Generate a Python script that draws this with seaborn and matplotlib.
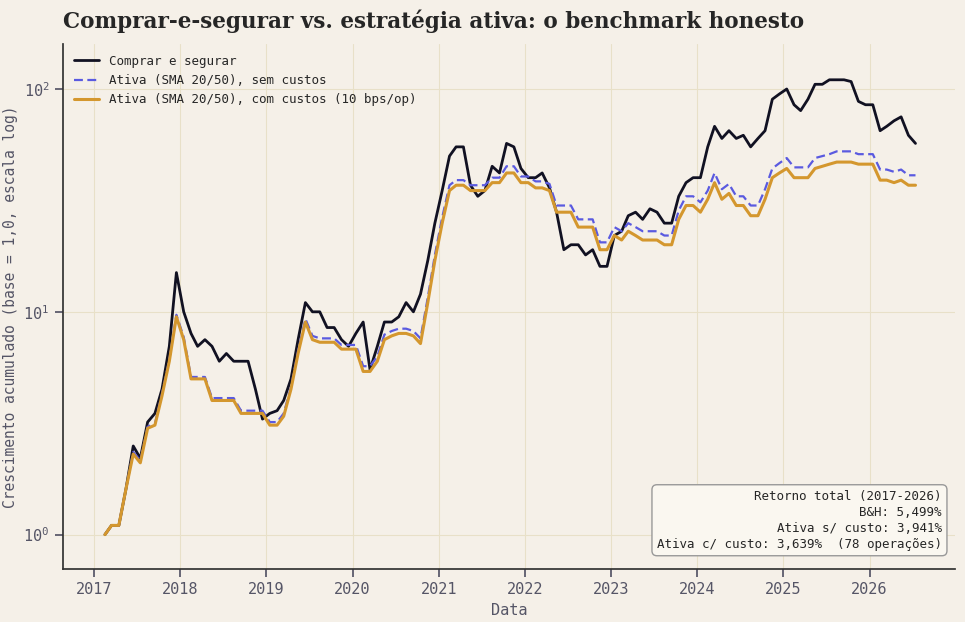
import numpy as np
import pandas as pd
import matplotlib
matplotlib.use("Agg")
import matplotlib.pyplot as plt
import seaborn as sns

# valores mensais aproximados, fev/2017 .. jul/2026
datas = pd.date_range("2017-02-01", periods=114, freq="MS") + pd.Timedelta(days=14)

buy_hold = [1.0, 1.1, 1.1, 1.6, 2.5, 2.2, 3.2, 3.5, 4.5, 7, 15,
            10, 8, 7, 7.5, 7, 6, 6.5, 6, 6, 6, 4.5, 3.3,
            3.5, 3.6, 4, 5, 7.5, 11, 10, 10, 8.5, 8.5, 7.5, 7,
            8, 9, 5.5, 7, 9, 9, 9.5, 11, 10, 12, 17, 25,
            35, 50, 55, 55, 37, 33, 35, 45, 42, 57, 55, 44,
            40, 40, 42, 36, 28, 19, 20, 20, 18, 19, 16, 16,
            22, 23, 27, 28, 26, 29, 28, 25, 25, 33, 38, 40,
            40, 55, 68, 60, 65, 60, 62, 55, 60, 65, 90, 95,
            100, 85, 80, 90, 105, 105, 110, 110, 110, 108, 88, 85,
            85, 65, 68, 72, 75, 62, 57]

ativa_com = [1.0, 1.1, 1.1, 1.6, 2.3, 2.1, 3.0, 3.1, 4.2, 6.0, 9.5,
             7.5, 5.0, 5.0, 5.0, 4.0, 4.0, 4.0, 4.0, 3.5, 3.5, 3.5, 3.5,
             3.1, 3.1, 3.4, 4.5, 6.5, 9, 7.5, 7.3, 7.3, 7.3, 6.8, 6.8,
             6.8, 5.4, 5.4, 6.0, 7.5, 7.8, 8, 8, 7.8, 7.2, 11, 17,
             25, 35, 37, 37, 35, 35, 35, 38, 38, 42, 42, 38,
             38, 36, 36, 35, 28, 28, 28, 24, 24, 24, 19, 19,
             22, 21, 23, 22, 21, 21, 21, 20, 20, 26, 30, 30,
             28, 32, 38, 32, 34, 30, 30, 27, 27, 32, 40, 42,
             44, 40, 40, 40, 44, 45, 46, 47, 47, 47, 46, 46,
             46, 39, 39, 38, 39, 37, 37]

ativa_sem = [1.0, 1.1, 1.1, 1.6, 2.35, 2.15, 3.05, 3.15, 4.3, 6.1, 9.7,
             7.7, 5.1, 5.1, 5.1, 4.1, 4.1, 4.1, 4.1, 3.6, 3.6, 3.6, 3.6,
             3.2, 3.2, 3.5, 4.6, 6.7, 9.3, 7.8, 7.6, 7.6, 7.6, 7.1, 7.1,
             7.1, 5.7, 5.7, 6.3, 7.9, 8.2, 8.4, 8.4, 8.2, 7.6, 11.6, 18,
             26.5, 37, 39, 39, 37, 37, 37, 40, 40, 45, 45, 40.5,
             40.5, 38.5, 38.5, 37.5, 30, 30, 30, 26, 26, 26, 20.5, 20.5,
             24, 23, 25, 24, 23, 23, 23, 22, 22, 28.5, 33, 33,
             31, 35, 42, 35.5, 37.5, 33, 33, 30, 30, 35.5, 44, 46.5,
             49, 44.5, 44.5, 44.5, 49, 50, 51, 52.5, 52.5, 52.5, 51, 51,
             51, 43.5, 43.5, 42.5, 43.5, 41, 41]

df = pd.DataFrame({"Data": datas, "bh": buy_hold, "sem": ativa_sem, "com": ativa_com})

sns.set_theme(style="whitegrid")
bg = "#f5f0e8"
plt.rcParams["font.family"] = ["DejaVu Sans Mono"]
fig, ax = plt.subplots(figsize=(9.65, 6.22), dpi=100)
fig.patch.set_facecolor(bg)
ax.set_facecolor(bg)

sns.lineplot(data=df, x="Data", y="bh", ax=ax, color="#111122", lw=2,
             label="Comprar e segurar")
sns.lineplot(data=df, x="Data", y="sem", ax=ax, color="#5a5ae0", lw=1.6,
             linestyle=(0, (4, 2)), label="Ativa (SMA 20/50), sem custos")
sns.lineplot(data=df, x="Data", y="com", ax=ax, color="#d4972e", lw=2.2,
             label="Ativa (SMA 20/50), com custos (10 bps/op)")

ax.set_yscale("log")
ax.set_ylim(0.7, 160)
ax.set_xlim(pd.Timestamp("2016-08-20"), pd.Timestamp("2026-12-31"))
ax.grid(color="#e8e0c8", lw=0.8)
for s in ["top", "right"]:
    ax.spines[s].set_visible(False)
for s in ["left", "bottom"]:
    ax.spines[s].set_color("#333333")
ax.tick_params(colors="#555566", labelsize=11, left=True, bottom=True)
ax.set_xlabel("Data", color="#555566", fontsize=11)
ax.set_ylabel("Crescimento acumulado (base = 1,0, escala log)", color="#555566", fontsize=10.5)

leg = ax.legend(loc="upper left", frameon=False, fontsize=9)
ax.text(0.985, 0.035,
        "Retorno total (2017-2026)\nB&H: 5,499%\nAtiva s/ custo: 3,941%\nAtiva c/ custo: 3,639%  (78 operações)",
        transform=ax.transAxes, ha="right", va="bottom", fontsize=9, linespacing=1.3,
        bbox=dict(boxstyle="round,pad=0.4", fc="#faf7f0", ec="#999999"))

fig.suptitle("Comprar-e-segurar vs. estratégia ativa: o benchmark honesto",
             x=0.065, y=0.985, ha="left", fontsize=15.5, fontweight="bold",
             family="DejaVu Serif")
fig.subplots_adjust(left=0.065, right=0.99, top=0.93, bottom=0.085)
fig.savefig("out.png", facecolor=bg)
